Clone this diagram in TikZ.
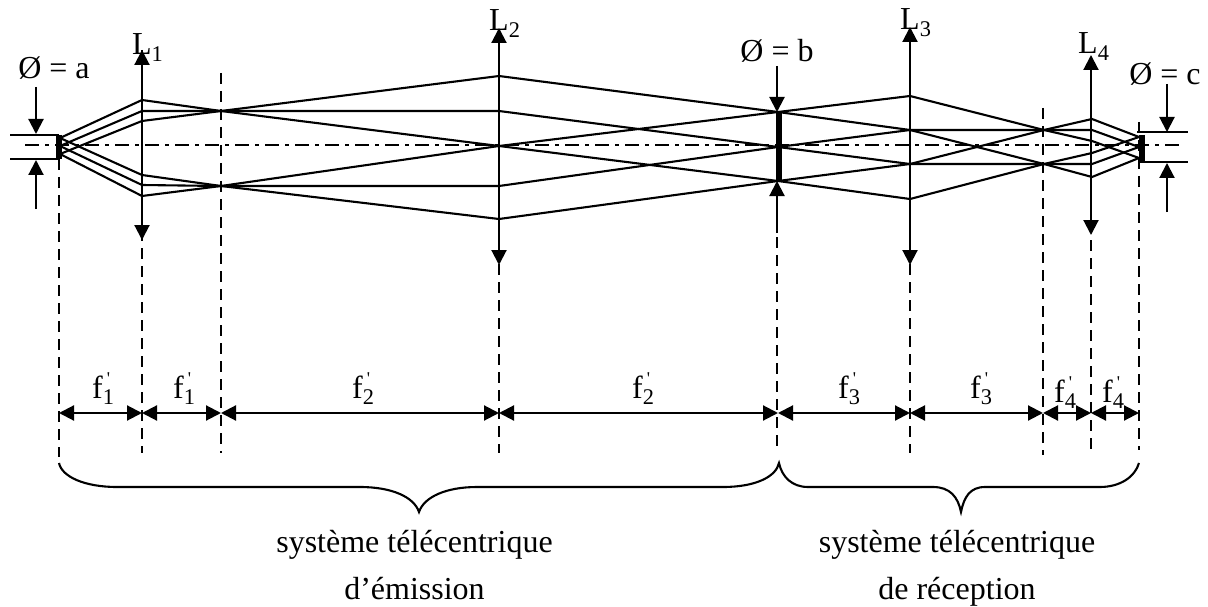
\documentclass[tikz,border=0pt]{standalone}
\usepackage{fontspec}
\setmainfont{Liberation Serif}
\newfontfamily\plainfont{Liberation Serif}
\usetikzlibrary{arrows.meta}
\tikzset{
	ray/.style={line width=2.1pt},
	guide/.style={line width=2pt,dash pattern=on 11pt off 7pt},
	axisline/.style={line width=2pt,dash pattern=on 14pt off 6pt on 4pt off 6pt},
	stop/.style={line width=5.5pt},
	head/.style={line width=2.1pt,-{Triangle[length=15pt,width=15pt]}},
	both/.style={line width=2.1pt,{Triangle[length=15pt,width=15pt]}-{Triangle[length=15pt,width=15pt]}},
	txt/.style={inner sep=0,anchor=base,font=\fontsize{32}{32}\selectfont},
	lens/.style={inner sep=0,anchor=base west,font=\fontsize{32}{32}\selectfont},
	dim/.style={inner sep=0,anchor=base west,font=\fontsize{32}{32}\selectfont}
}
\newcommand{\focal}[1]{f\rlap{\hspace{4pt}\raisebox{14pt}{\plainfont\fontsize{18}{18}\selectfont\symbol{39}}}\textsubscript{#1}}
\begin{document}
\begin{tikzpicture}[x=1pt,y=-1pt]
		\useasboundingbox (0,0) rectangle (1208,607);
		% source and apertures
		\coordinate(s1) at(60,138);
		\coordinate(s2) at(60,146);
		\coordinate(s3) at(60,154);
		\coordinate(b1) at(778,112);
		\coordinate(b2) at(778,147);
		\coordinate(b3) at(778,181);
		\coordinate(c1) at(1139,137);
		\coordinate(c2) at(1139,147);
		\coordinate(c3) at(1139,158);
		% focal points
		\coordinate(e1) at(221,111);
		\coordinate(e2) at(221,186);
		\coordinate(r1) at(1044,130);
		\coordinate(r2) at(1044,164);
		% hits on the lenses
		\coordinate(la) at(142,100);
		\coordinate(lb) at(142,111);
		\coordinate(lc) at(142,121);
		\coordinate(ld) at(142,175);
		\coordinate(le) at(142,185);
		\coordinate(lf) at(142,196);
		\coordinate(ma) at(499,76);
		\coordinate(mb) at(499,111);
		\coordinate(mc) at(499,146);
		\coordinate(md) at(499,186);
		\coordinate(me) at(499,219);
		\coordinate(na) at(910,96);
		\coordinate(nb) at(910,130);
		\coordinate(nc) at(910,164);
		\coordinate(nd) at(910,199);
		\coordinate(pa) at(1092,119);
		\coordinate(pb) at(1092,130);
		\coordinate(pc) at(1092,141);
		\coordinate(pd) at(1092,153);
		\coordinate(pe) at(1092,164);
		\coordinate(pf) at(1092,177);
		% lines on the planes
		\coordinate(g0t) at(59,159);
		\coordinate(g0b) at(59,457);
		\coordinate(g1t) at(142,50);
		\coordinate(g1b) at(142,453);
		\coordinate(g2t) at(221,73);
		\coordinate(g2b) at(221,453);
		\coordinate(g3t) at(499,30);
		\coordinate(g3b) at(499,453);
		\coordinate(g4t) at(777,165);
		\coordinate(g4b) at(777,450);
		\coordinate(g5t) at(910,30);
		\coordinate(g5b) at(910,453);
		\coordinate(g6t) at(1043,108);
		\coordinate(g6b) at(1043,455);
		\coordinate(g7t) at(1091,60);
		\coordinate(g7b) at(1091,450);
		\coordinate(g8t) at(1139,122);
		\coordinate(g8b) at(1139,450);
		\draw[guide] (g0t)--(g0b);
		\draw[guide] (g1t)--(g1b);
		\draw[guide] (g2t)--(g2b);
		\draw[guide] (g3t)--(g3b);
		\draw[guide] (g4t)--(g4b);
		\draw[guide] (g5t)--(g5b);
		\draw[guide] (g6t)--(g6b);
		\draw[guide] (g7t)--(g7b);
		\draw[guide] (g8t)--(g8b);
		% optical axis
		\coordinate(x0) at(25,145);
		\coordinate(x1) at(1180,145);
		\draw[axisline] (x0)--(x1);
		% lenses
		\coordinate(l1t) at(142,50);
		\coordinate(l1b) at(142,240);
		\coordinate(l2t) at(499,28);
		\coordinate(l2b) at(499,265);
		\coordinate(l3t) at(910,27);
		\coordinate(l3b) at(910,265);
		\coordinate(l4t) at(1091,55);
		\coordinate(l4b) at(1091,235);
		\draw[both] (l1t)--(l1b);
		\draw[both] (l2t)--(l2b);
		\draw[both] (l3t)--(l3b);
		\draw[both] (l4t)--(l4b);
		% rays
		\draw[ray] (s1)--(la)--(e1)--(ma)--(b1)--(na)--(r1)--(pa)--(c1);
		\draw[ray] (s2)--(lb)--(e1)--(mb)--(b2)--(nb)--(r2)--(pd)--(c1);
		\draw[ray] (s3)--(lc)--(e1)--(mc)--(b3)--(nc)--(r1)--(pb)--(c2);
		\draw[ray] (s1)--(ld)--(e2)--(mc)--(b1)--(nb)--(r1)--(pc)--(c3);
		\draw[ray] (s2)--(le)--(e2)--(md)--(b2)--(nc)--(r2)--(pe)--(c2);
		\draw[ray] (s3)--(lf)--(e2)--(me)--(b3)--(nd)--(r2)--(pf)--(c3);
		% stops
		\coordinate(a1) at(10,135);
		\coordinate(a2) at(59,135);
		\coordinate(a3) at(10,159);
		\coordinate(a4) at(59,159);
		\coordinate(a5) at(36,87);
		\coordinate(a6) at(36,209);
		\coordinate(a7) at(36,134);
		\coordinate(a8) at(36,160);
		\coordinate(b0t) at(779,112);
		\coordinate(b0b) at(779,181);
		\coordinate(b5) at(777,66);
		\coordinate(b6) at(777,233);
		\coordinate(b7) at(777,112);
		\coordinate(b8) at(777,181);
		\coordinate(c4) at(1137,132);
		\coordinate(c5) at(1188,132);
		\coordinate(c6) at(1140,162);
		\coordinate(c7) at(1188,162);
		\coordinate(c8) at(1167,84);
		\coordinate(c9) at(1167,212);
		\coordinate(c10) at(1167,132);
		\coordinate(c11) at(1167,163);
		\coordinate(c0t) at(1142,135);
		\coordinate(c0b) at(1142,162);
		\draw[ray] (a1)--(a2);
		\draw[ray] (a3)--(a4);
		\draw[stop] (a2)--(a4);
		\draw[head] (a5)--(a7);
		\draw[head] (a6)--(a8);
		\draw[stop] (b0t)--(b0b);
		\draw[head] (b5)--(b7);
		\draw[head] (b6)--(b8);
		\draw[ray] (c4)--(c5);
		\draw[ray] (c6)--(c7);
		\draw[stop] (c0t)--(c0b);
		\draw[head] (c8)--(c10);
		\draw[head] (c9)--(c11);
		% labels
		\node[txt] (A) at (54,79) {Ø = a};
		\node[txt] (B) at (777,62) {Ø = b};
		\node[txt] (C) at (1165,85) {Ø = c};
		\node[lens] (L1) at (132,55) {L\textsubscript{1}};
		\node[lens] (L2) at (489,31) {L\textsubscript{2}};
		\node[lens] (L3) at (900,30) {L\textsubscript{3}};
		\node[lens] (L4) at (1078,54) {L\textsubscript{4}};
		% focal lengths
		\coordinate(d0) at(59,413);
		\coordinate(d1) at(142,413);
		\coordinate(d2) at(221,413);
		\coordinate(d3) at(499,413);
		\coordinate(d4) at(778,413);
		\coordinate(d5) at(910,413);
		\coordinate(d6) at(1043,413);
		\coordinate(d7) at(1091,413);
		\coordinate(d8) at(1139,413);
		\draw[both] (d0)--(d1);
		\draw[both] (d1)--(d2);
		\draw[both] (d2)--(d3);
		\draw[both] (d3)--(d4);
		\draw[both] (d4)--(d5);
		\draw[both] (d5)--(d6);
		\draw[both] (d6)--(d7);
		\draw[both] (d7)--(d8);
		\node[dim] (f1a) at (92,398) {\focal{1}};
		\node[dim] (f1b) at (173,398) {\focal{1}};
		\node[dim] (f2a) at (352,398) {\focal{2}};
		\node[dim] (f2b) at (632,398) {\focal{2}};
		\node[dim] (f3a) at (838,398) {\focal{3}};
		\node[dim] (f3b) at (970,398) {\focal{3}};
		\node[dim] (f4a) at (1054,402) {\focal{4}};
		\node[dim] (f4b) at (1102,402) {\focal{4}};
		% braces
		\draw[line width=2.1pt] (59,463) .. controls (62,477) and (85,487) .. (117,487)
			-- (360,487) .. controls (392,487) and (414,497) .. (419,512)
			.. controls (424,497) and (446,487) .. (477,487)
			-- (723,487) .. controls (755,487) and (776,477) .. (779,463)
			.. controls (782,477) and (792,487) .. (808,487)
			-- (933,487) .. controls (950,487) and (958,497) .. (961,512)
			.. controls (964,497) and (970,487) .. (985,487)
			-- (1100,487) .. controls (1120,487) and (1135,477) .. (1139,463);
		\node[txt] (T1) at (414.5,552) {système télécentrique};
		\node[txt] (T2) at (414.5,599) {d’émission};
		\node[txt] (T3) at (957,552) {système télécentrique};
		\node[txt] (T4) at (957,599) {de réception};
	\end{tikzpicture}
\end{document}
